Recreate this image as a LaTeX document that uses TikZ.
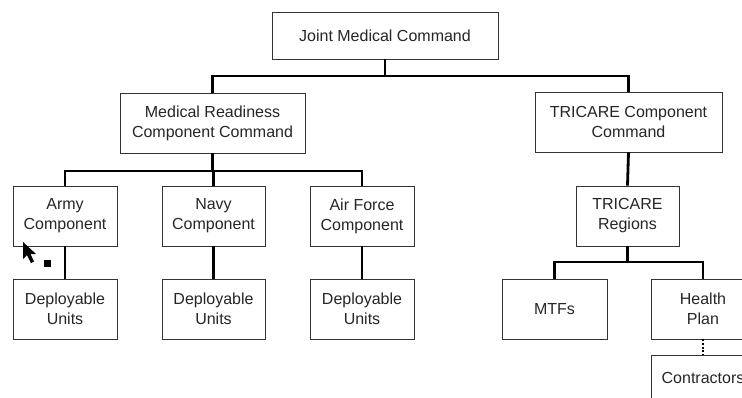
\documentclass[tikz,border=0pt]{standalone}
\usepackage{fontspec}
\setmainfont{Liberation Sans}
\begin{document}
\begin{tikzpicture}[x=1pt, y=-1pt,
        box/.style={rectangle, draw=black!80, line width=0.8pt, fill=white,
                    align=center, inner sep=0pt, text=black!85,
                    font=\fontsize{16}{20}\selectfont},
        link/.style={line width=2.8pt, black},
        dotlink/.style={line width=2.8pt, black, dash pattern=on 2pt off 1.6pt}]
            \useasboundingbox (0,0) rectangle (742,397);
            \clip (0,0) rectangle (742,397);

            % top level
            \node[box, minimum width=226pt, minimum height=47pt] (jmc) at (385, 35.5) {Joint Medical Command};

            \node[box, minimum width=185pt, minimum height=60pt] (mrcc) at (212.5, 123) {Medical Readiness\\Component Command};
            \node[box, minimum width=187pt, minimum height=60pt] (tcc)  at (628.5, 122) {TRICARE Component\\Command};

            % services
            \node[box, minimum width=104pt, minimum height=60pt] (army)     at ( 65, 216) {Army\\Component};
            \node[box, minimum width=103pt, minimum height=60pt] (navy)     at (213.5, 216) {Navy\\Component};
            \node[box, minimum width=104pt, minimum height=60pt] (airforce) at (362, 216) {Air Force\\Component};

            \node[box, minimum width=104pt, minimum height=60pt] (armyunits)     at ( 65, 309) {Deployable\\Units};
            \node[box, minimum width=103pt, minimum height=60pt] (navyunits)     at (213.5, 309) {Deployable\\Units};
            \node[box, minimum width=104pt, minimum height=60pt] (airforceunits) at (362, 309) {Deployable\\Units};

            % tricare side
            \node[box, minimum width=103pt, minimum height=60pt] (regions) at (627.5, 216) {TRICARE\\Regions};
            \node[box, minimum width=105pt, minimum height=60pt] (mtfs)    at (554.5, 309) {MTFs};
            \node[box, minimum width=104pt, minimum height=60pt] (health)  at (703, 309) {Health\\Plan};
            \node[box, minimum width=104pt, minimum height=46pt] (contractors) at (703, 378) {Contractors};

            \coordinate (topbar)   at (0, 76);
            \coordinate (leftbar)  at (0, 171);
            \coordinate (rightbar) at (0, 262);

            \draw[link] (jmc.south) -- (jmc.south |- topbar);
            \draw[link] (mrcc.north) |- (tcc.north |- topbar) -- (tcc.north);

            \draw[link] (mrcc.south) -- (mrcc.south |- leftbar);
            \draw[link] (army.north) |- (airforce.north |- leftbar) -- (airforce.north);
            \draw[link] (navy.north) -- (navy.north |- leftbar);

            \draw[link] (army.south) -- (armyunits.north);
            \draw[link] (navy.south) -- (navyunits.north);
            \draw[link] (airforce.south) -- (airforceunits.north);

            \draw[link] (tcc.south) -- (regions.north);
            \draw[link] (regions.south) -- (regions.south |- rightbar);
            \draw[link] (mtfs.north) |- (health.north |- rightbar) -- (health.north);
            \draw[dotlink] (health.south) -- (contractors.north);

            % mouse pointer
            \fill[black] (23,242) -- (23,259) -- (27,255) -- (31,263) -- (34,261.5) -- (30.5,254) -- (36,254) -- cycle;
            \fill[black] (44,260) rectangle (51,267);
\end{tikzpicture}
\end{document}
